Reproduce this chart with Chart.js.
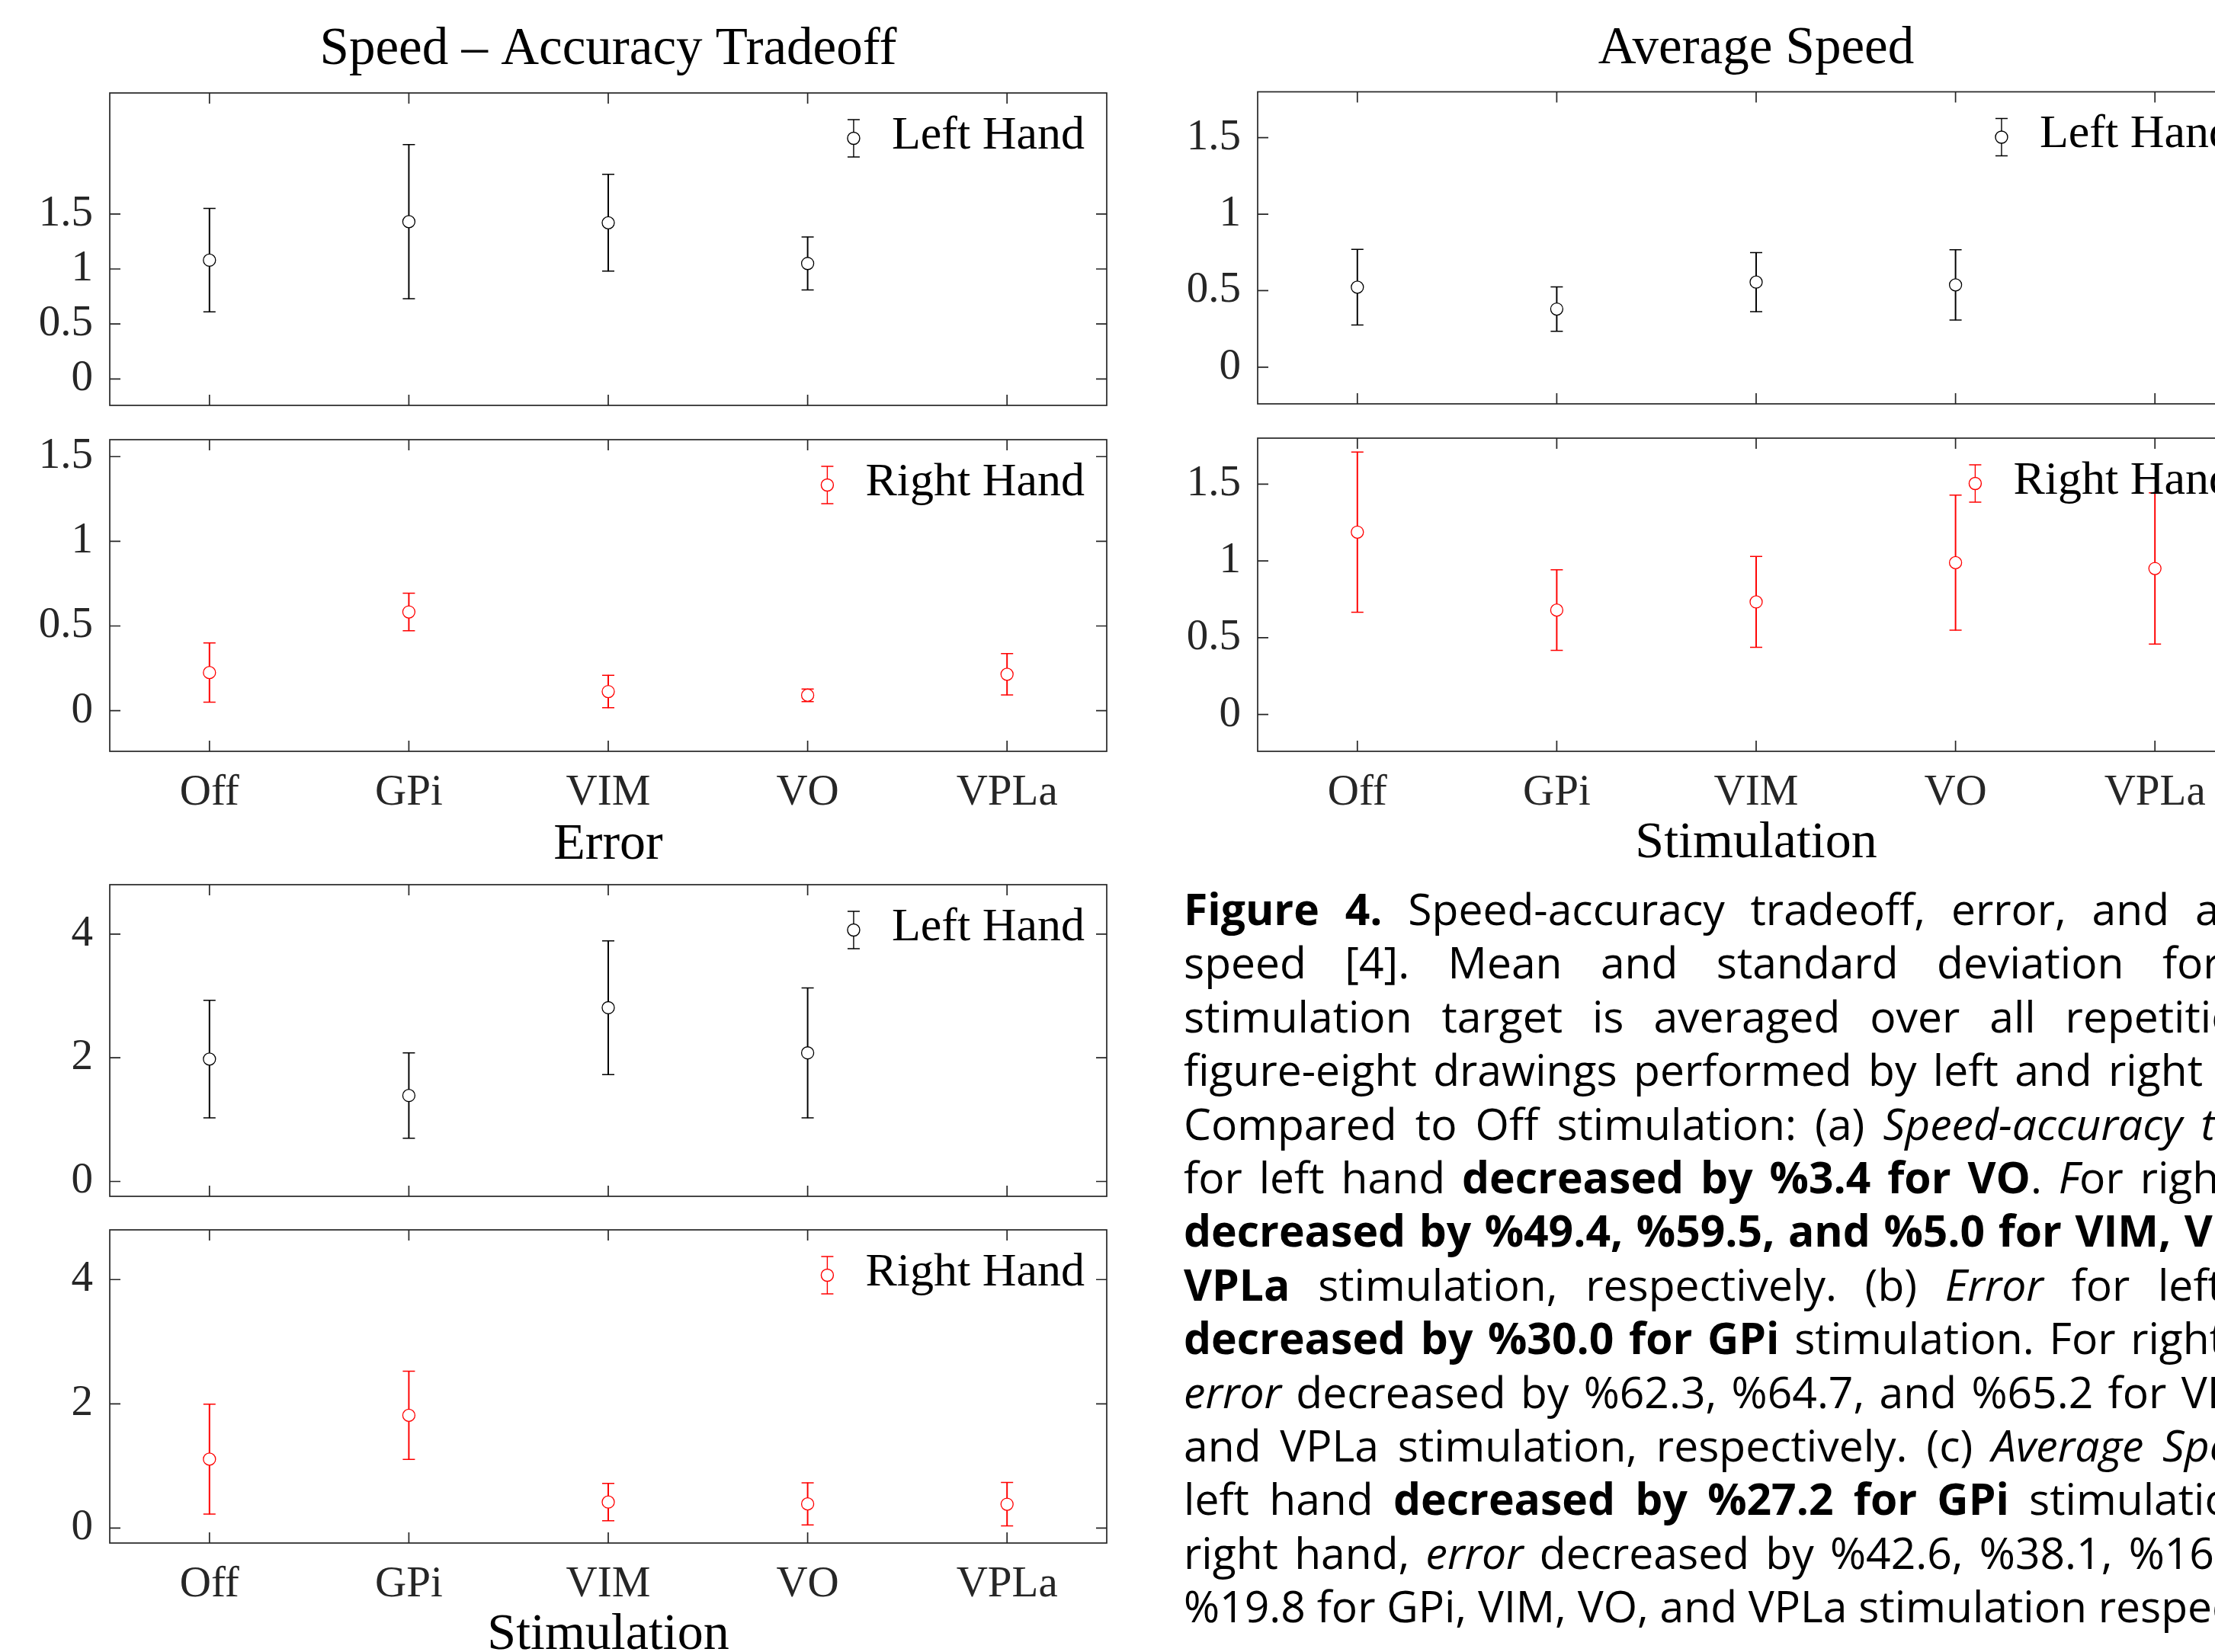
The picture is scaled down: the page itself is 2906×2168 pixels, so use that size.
<!DOCTYPE html>
<html>
<head>
<meta charset="utf-8">
<title>Speed-accuracy tradeoff, error and average speed</title>
<script src="https://cdn.jsdelivr.net/npm/chart.js@4.4.0/dist/chart.umd.min.js"></script>
<style>
  html, body { margin: 0; padding: 0; background: #fff; }
  body { width: 2906px; height: 2168px; overflow: hidden; position: relative; }
  canvas { position: absolute; }
  #caption {
    position: absolute; left: 1553px; top: 1157px; width: 1537px;
    font-family: "Open Sans", "Noto Sans", sans-serif; font-size: 57px;
    line-height: 70.4px; color: #000;
  }
  #caption div { text-align: justify; text-align-last: justify; white-space: nowrap; }
  #caption div.last { text-align: left; text-align-last: left; }
</style>
</head>
<body>
<canvas id="satL"></canvas>
<canvas id="satR"></canvas>
<canvas id="errL"></canvas>
<canvas id="errR"></canvas>
<canvas id="spdL"></canvas>
<canvas id="spdR"></canvas>

<div id="caption">
  <div><b>Figure 4.</b> Speed-accuracy tradeoff, error, and average</div>
  <div>speed [4]. Mean and standard deviation for each</div>
  <div>stimulation target is averaged over all repetitions of</div>
  <div>figure-eight drawings performed by left and right hands.</div>
  <div>Compared to Off stimulation: (a) <i>Speed-accuracy tradeoff</i></div>
  <div>for left hand <b>decreased by %3.4 for VO</b>. <i>F</i>or right hand</div>
  <div><b>decreased by %49.4, %59.5, and %5.0 for VIM, VO, and</b></div>
  <div><b>VPLa</b> stimulation, respectively. (b) <i>Error</i> for left hand</div>
  <div><b>decreased by %30.0 for GPi</b> stimulation. For right hand,</div>
  <div><i>error</i> decreased by %62.3, %64.7, and %65.2 for VIM, VO,</div>
  <div>and VPLa stimulation, respectively. (c) <i>Average Speed</i> for</div>
  <div>left hand <b>decreased by %27.2 for GPi</b> stimulation. For</div>
  <div>right hand, <i>error</i> decreased by %42.6, %38.1, %16.0, and</div>
  <div class="last">%19.8 for GPi, VIM, VO, and VPLa stimulation respectively.</div>
</div>

<script>
// stimulation targets (x categories)
const stimulation = ['Off', 'GPi', 'VIM', 'VO', 'VPLa'];

// Speed - accuracy tradeoff: mean and standard deviation
const satLeftMean  = [1.08, 1.43, 1.42, 1.05, null];
const satLeftStd   = [0.47, 0.70, 0.44, 0.24, null];
const satRightMean = [0.225, 0.583, 0.113, 0.091, 0.215];
const satRightStd  = [0.175, 0.111, 0.096, 0.037, 0.122];

// Error
const errLeftMean  = [1.98, 1.39, 2.81, 2.08, null];
const errLeftStd   = [0.95, 0.69, 1.08, 1.05, null];
const errRightMean = [1.11, 1.815, 0.42, 0.39, 0.385];
const errRightStd  = [0.885, 0.71, 0.30, 0.34, 0.35];

// Average speed
const spdLeftMean  = [0.523, 0.380, 0.556, 0.538, null];
const spdLeftStd   = [0.247, 0.145, 0.193, 0.230, null];
const spdRightMean = [1.188, 0.680, 0.733, 0.989, 0.951];
const spdRightStd  = [0.522, 0.262, 0.296, 0.440, 0.493];

// y tick labels
const satTicks = [0, 0.5, 1, 1.5];
const errTicks = [0, 2, 4];
const spdTicks = [0, 0.5, 1, 1.5];

const FONT = '"Liberation Serif", "Times New Roman", serif';
const INK = '#262626';
const BLACK = '#000000';
const RED = '#ff0000';

// matlab style box with inward ticks on all four sides
const boxPlugin = {
  id: 'matlabBox',
  afterDraw(chart) {
    const { ctx, chartArea: a, scales: { x, y } } = chart;
    ctx.save();
    ctx.strokeStyle = INK;
    ctx.lineWidth = 1.7;
    ctx.strokeRect(a.left, a.top, a.right - a.left, a.bottom - a.top);
    ctx.beginPath();
    x.ticks.forEach((t, i) => {
      const px = x.getPixelForTick(i);
      ctx.moveTo(px, a.bottom); ctx.lineTo(px, a.bottom - 14);
      ctx.moveTo(px, a.top); ctx.lineTo(px, a.top + 14);
    });
    y.ticks.forEach(t => {
      const py = y.getPixelForValue(t.value);
      ctx.moveTo(a.left, py); ctx.lineTo(a.left + 14, py);
      ctx.moveTo(a.right, py); ctx.lineTo(a.right - 14, py);
    });
    ctx.stroke();
    ctx.restore();
  }
};

// legend in the top right corner, with an errorbar glyph
const handLegend = {
  id: 'handLegend',
  afterDraw(chart) {
    const ds = chart.data.datasets.find(d => d.legendEntry);
    if (!ds) return;
    const { ctx, chartArea: a } = chart;
    ctx.save();
    ctx.font = '62px ' + FONT;
    const tw = ctx.measureText(ds.label).width;
    const textEnd = a.right - 29;
    const textStart = textEnd - tw;
    const cx = textStart - 50;
    const cy = a.top + 59.5;
    ctx.strokeStyle = ds.pointBorderColor;
    ctx.lineWidth = 1.4;
    ctx.beginPath();
    ctx.moveTo(cx, cy - 24.5); ctx.lineTo(cx, cy + 24.5);
    ctx.moveTo(cx - 8, cy - 24.5); ctx.lineTo(cx + 8, cy - 24.5);
    ctx.moveTo(cx - 8, cy + 24.5); ctx.lineTo(cx + 8, cy + 24.5);
    ctx.stroke();
    ctx.beginPath();
    ctx.arc(cx, cy, 8, 0, Math.PI * 2);
    ctx.fillStyle = '#fff';
    ctx.fill();
    ctx.stroke();
    ctx.fillStyle = BLACK;
    ctx.textBaseline = 'middle';
    ctx.textAlign = 'left';
    ctx.fillText(ds.label, textStart, cy - 3);
    ctx.restore();
  }
};

function errorBars(label, mean, sd, color) {
  const lo = mean.map((m, i) => m == null ? null : m - sd[i]);
  const hi = mean.map((m, i) => m == null ? null : m + sd[i]);
  const cap = {
    type: 'line', showLine: false, pointStyle: 'line', pointRadius: 8,
    pointBorderWidth: 1.5, pointBorderColor: color, order: 2
  };
  return [
    { type: 'bar', data: mean.map((m, i) => m == null ? null : [lo[i], hi[i]]),
      backgroundColor: color, barThickness: 1.3, order: 3 },
    Object.assign({ data: hi }, cap),
    Object.assign({ data: lo }, cap),
    { type: 'line', label: label, data: mean, showLine: false, pointStyle: 'circle',
      pointRadius: 8, pointBorderWidth: 1.3, pointBorderColor: color,
      pointBackgroundColor: '#fff', order: 1, legendEntry: true }
  ];
}

const panels = [
  { id: 'satL', left: 0, top: 0, w: 1456, h: 540, title: 'Speed \u2013 Accuracy Tradeoff',
    titlePad: { top: 24.6, bottom: 14.6 }, padTop: 0, xLabels: false, xHeight: 8,
    label: 'Left Hand', mean: satLeftMean, sd: satLeftStd, color: BLACK, min: -0.24, max: 2.6, ticks: satTicks },
  { id: 'satR', left: 0, top: 571, w: 1456, h: 579, padTop: 6, xLabels: true, xHeight: 164, xTitle: 'Error',
    label: 'Right Hand', mean: satRightMean, sd: satRightStd, color: RED, min: -0.24, max: 1.6, ticks: satTicks },
  { id: 'errL', left: 0, top: 1155, w: 1456, h: 423, padTop: 6, xLabels: false, xHeight: 8,
    label: 'Left Hand', mean: errLeftMean, sd: errLeftStd, color: BLACK, min: -0.24, max: 4.8, ticks: errTicks },
  { id: 'errR', left: 0, top: 1608, w: 1456, h: 579, padTop: 6, xLabels: true, xHeight: 162, xTitle: 'Stimulation',
    label: 'Right Hand', mean: errRightMean, sd: errRightStd, color: RED, min: -0.24, max: 4.8, ticks: errTicks },
  { id: 'spdL', left: 1506, top: 0, w: 1456, h: 538, title: 'Average Speed',
    titlePad: { top: 23.6, bottom: 14.1 }, padTop: 0, xLabels: false, xHeight: 8,
    label: 'Left Hand', mean: spdLeftMean, sd: spdLeftStd, color: BLACK, min: -0.24, max: 1.8, ticks: spdTicks },
  { id: 'spdR', left: 1506, top: 569, w: 1456, h: 579, padTop: 6, xLabels: true, xHeight: 162, xTitle: 'Stimulation',
    label: 'Right Hand', mean: spdRightMean, sd: spdRightStd, color: RED, min: -0.24, max: 1.8, ticks: spdTicks }
];

panels.forEach(p => {
  const canvas = document.getElementById(p.id);
  canvas.width = p.w;
  canvas.height = p.h;
  canvas.style.left = p.left + 'px';
  canvas.style.top = p.top + 'px';

  new Chart(canvas, {
    type: 'bar',
    data: { labels: stimulation, datasets: errorBars(p.label, p.mean, p.sd, p.color) },
    options: {
      responsive: false,
      animation: false,
      events: [],
      layout: { autoPadding: false, padding: { top: p.padTop, right: 4, bottom: 0, left: 0 } },
      plugins: {
        legend: { display: false },
        tooltip: { enabled: false },
        title: {
          display: !!p.title,
          text: p.title || '',
          fullSize: false,
          color: BLACK,
          font: { family: FONT, size: 69, weight: 'normal', lineHeight: 1.2 },
          padding: p.titlePad || 0
        }
      },
      scales: {
        x: {
          type: 'category',
          offset: true,
          grid: { display: false, drawTicks: false },
          border: { display: false },
          ticks: {
            display: p.xLabels, color: INK, padding: 20.5, maxRotation: 0, autoSkip: false,
            font: { family: FONT, size: 57, lineHeight: 1.2 }
          },
          title: {
            display: !!p.xTitle, text: p.xTitle || '', color: BLACK,
            font: { family: FONT, size: 68, lineHeight: 1.2 },
            padding: { top: 0, bottom: 0 }
          },
          afterFit: s => {
            s.height = p.xHeight;
            s.paddingLeft = 0; s.paddingRight = 0;
          }
        },
        y: {
          min: p.min,
          max: p.max,
          grid: { display: false, drawTicks: false },
          border: { display: false },
          afterBuildTicks: s => { s.ticks = p.ticks.map(v => ({ value: v })); },
          ticks: {
            color: INK, padding: 22,
            font: { family: FONT, size: 57, lineHeight: 1.2 },
            callback: v => String(v)
          },
          afterFit: s => {
            s.width = 144;
            s.paddingTop = 0; s.paddingBottom = 0;
          }
        }
      }
    },
    plugins: [boxPlugin, handLegend]
  });
});
</script>
</body>
</html>
